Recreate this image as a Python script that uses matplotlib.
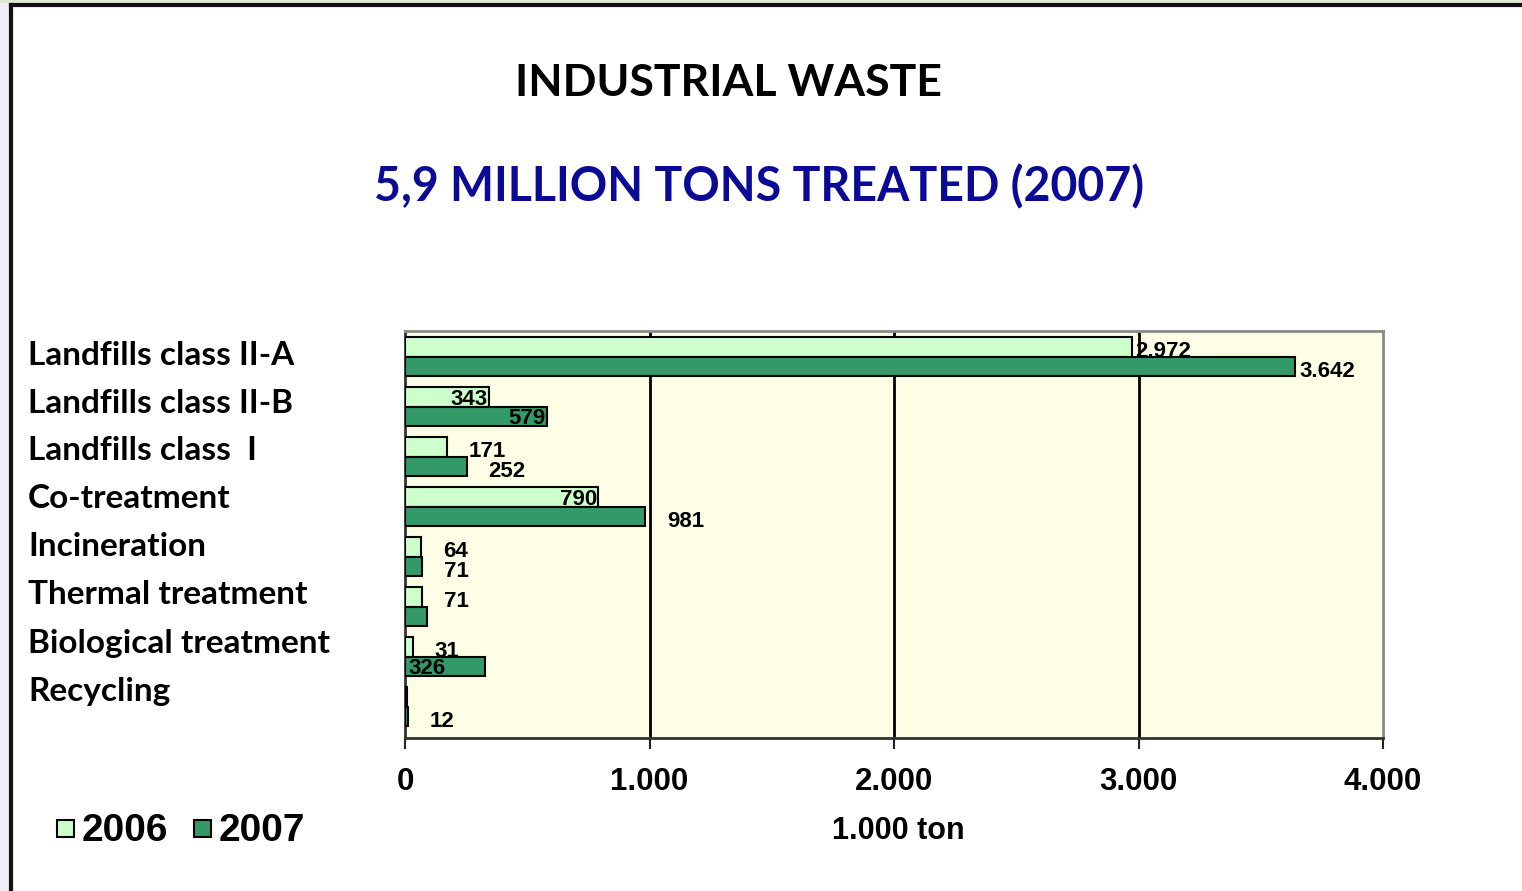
import numpy as np
import matplotlib
matplotlib.use("Agg")
import matplotlib.pyplot as plt
from matplotlib.patches import Rectangle
from matplotlib.lines import Line2D

categories = ["Landfills class II-A", "Landfills class II-B", "Landfills class  I",
              "Co-treatment", "Incineration", "Thermal treatment",
              "Biological treatment", "Recycling"]
vals_2006 = [2972, 343, 171, 790, 64, 71, 31, 8]
vals_2007 = [3642, 579, 252, 981, 71, 88, 326, 12]
labels_2006 = ["2.972", "343", "171", "790", "64", "71", "31", ""]
labels_2007 = ["3.642", "579", "252", "981", "71", "", "326", "12"]
# where each value label sits: 'in' = inside bar end, 'edge' = just past bar, 'out' = gap, 'base' = at zero
place_2006 = ["edge", "in", "out", "in", "out", "out", "out", "out"]
place_2007 = ["edge", "in", "out", "out", "out", "out", "base", "out"]
xticks = [0, 1000, 2000, 3000, 4000]
xtick_labels = ["0", "1.000", "2.000", "3.000", "4.000"]

c06 = "#ccffcc"
c07 = "#339966"
W, H = 1522, 891

fig = plt.figure(figsize=(W / 100, H / 100), dpi=100)
fig.patch.set_facecolor("white")

# slide frame
fig.patches.append(Rectangle((0, 0), 10 / W, 1, transform=fig.transFigure,
                             facecolor="#eeeef8", edgecolor="none", zorder=0))
fig.patches.append(Rectangle((0, 1 - 3 / H), 1, 3 / H, transform=fig.transFigure,
                             facecolor="#dfe9cf", edgecolor="none", zorder=0))
fig.lines.append(Line2D([11 / W, 11 / W], [0, 1 - 5 / H], transform=fig.transFigure,
                        color="#111111", lw=3))
fig.lines.append(Line2D([11 / W, 1], [1 - 5 / H, 1 - 5 / H], transform=fig.transFigure,
                        color="#111111", lw=3))

tfont = ["Lato", "DejaVu Sans"]
fig.text(728 / W, 1 - 83 / H, "INDUSTRIAL WASTE", ha="center", va="center",
         fontsize=32, fontweight="bold", family=tfont, color="black")
fig.text(759 / W, 1 - 187 / H, "5,9 MILLION TONS TREATED (2007)", ha="center", va="center",
         fontsize=33.5, fontweight="bold", family=tfont, color="#0a0a96")

for i, name in enumerate(categories):
    fig.text(28 / W, 1 - (355 + 48 * i) / H, name, ha="left", va="center",
             fontsize=24, fontweight="bold", family=tfont, color="black")

ax = fig.add_axes([405 / W, 1 - 738 / H, (1383 - 405) / W, (738 - 331) / H])
ax.set_facecolor("#fefee6")

y = np.arange(len(categories))
h = 0.39
ax.barh(y - h / 2, vals_2006, height=h, color=c06, edgecolor="black", lw=1.5, zorder=3)
ax.barh(y + h / 2, vals_2007, height=h, color=c07, edgecolor="black", lw=1.5, zorder=3)

vfont = dict(fontsize=16, fontweight="bold", family="Liberation Sans",
             color="black", zorder=4)
for vals, labs, places, off in [(vals_2006, labels_2006, place_2006, -h / 2),
                                (vals_2007, labels_2007, place_2007, h / 2)]:
    for i, (v, t, p) in enumerate(zip(vals, labs, places)):
        if not t:
            continue
        yy = i + off + 0.1
        if p == "in":
            ax.text(v - 5, yy - 0.05, t, ha="right", va="center", **vfont)
        elif p == "edge":
            ax.text(v + 15, yy, t, ha="left", va="center", **vfont)
        elif p == "base":
            ax.text(15, yy - 0.05, t, ha="left", va="center", **vfont)
        else:
            ax.text(v + 90, yy, t, ha="left", va="center", **vfont)

ax.set_xlim(0, 4000)
ax.set_ylim(7.63, -0.51)
ax.set_yticks([])
ax.set_xticks(xticks)
ax.set_xticklabels(xtick_labels, family="Liberation Sans", fontsize=22.5, fontweight="bold")
ax.tick_params(axis="x", length=8, width=1.5, color="#222222", pad=13)
for x in xticks[1:-1]:
    ax.axvline(x, color="black", lw=2, zorder=2)
ax.spines["top"].set_color("#8a8a8a")
ax.spines["right"].set_color("#8a8a8a")
ax.spines["bottom"].set_color("#333333")
ax.spines["left"].set_color("#333333")
for s in ax.spines.values():
    s.set_linewidth(2)

fig.text(898 / W, 1 - 831 / H, "1.000 ton", ha="center", va="center",
         fontsize=22, fontweight="bold", family="Liberation Sans")

# legend
for x0, c, t in [(57, c06, "2006"), (194, c07, "2007")]:
    fig.patches.append(Rectangle((x0 / W, 1 - 837 / H), 17 / W, 17 / H, transform=fig.transFigure,
                                 facecolor=c, edgecolor="black", lw=1.5))
    fig.text((x0 + 25) / W, 1 - 831 / H, t, ha="left", va="center",
             fontsize=28, fontweight="bold", family="Liberation Sans")

fig.savefig("out.png", dpi=100)
